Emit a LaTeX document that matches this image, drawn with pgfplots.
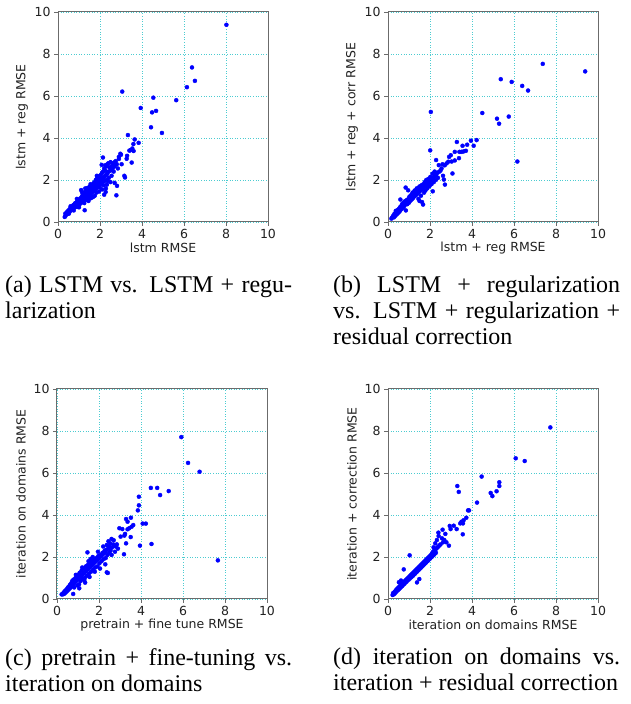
\documentclass[border=0pt]{standalone}
\usepackage{pgfplots}
\pgfplotsset{compat=1.18}
\usepackage{fontspec}
\setmainfont{Liberation Serif}
\newfontfamily\dejavu{DejaVu Sans}
\definecolor{GridCyan}{rgb}{0.30,0.80,0.82}
\definecolor{Frame}{gray}{0.42}
\definecolor{Ink}{gray}{0.13}

\pgfplotsset{
  rmse/.style={
    width=210pt,height=210pt,scale only axis,
    xmin=0,xmax=10,ymin=0,ymax=10,
    xtick={0,2,4,6,8,10},ytick={0,2,4,6,8,10},
    xtick pos=left,ytick pos=left,
    grid=major,
    major grid style={draw=GridCyan,line width=0.6pt,dotted},
    axis line style={draw=Frame,line width=1pt},
    tick align=outside,major tick length=4pt,
    tick style={draw=Frame,line width=0.8pt},
    /pgf/number format/assume math mode=true,
    tick label style={font=\dejavu\fontsize{12.5}{14}\selectfont,text=Ink},
    label style={font=\dejavu\fontsize{12.5}{14}\selectfont,text=Ink},
    xlabel style={at={(axis description cs:0.5,-0.125)},anchor=center},
    ylabel style={at={(axis description cs:-0.172,0.5)},anchor=center},
  },
  dots/.style={only marks,mark=*,mark size=2pt,color=blue,mark options={draw=none,fill=blue}},
}
\tikzset{subcap/.style={anchor=north west,inner sep=0pt,text width=287pt,align=justify,
    font=\fontsize{24}{26}\selectfont,text=black}}

\begin{document}
\begin{tikzpicture}
\path (0pt,0pt) rectangle (631pt,704pt);

% (a)
\begin{axis}[rmse,at={(58pt,482pt)},anchor=south west,
  xlabel={lstm RMSE},ylabel={lstm + reg RMSE}]
\addplot[dots] coordinates {
(0.32,0.24)(0.35,0.40)(0.36,0.30)(0.40,0.36)(0.41,0.45)(0.45,0.50)(0.45,0.38)(0.47,0.42)
(0.50,0.48)(0.50,0.55)(0.52,0.40)(0.55,0.60)(0.56,0.50)(0.60,0.55)(0.60,0.68)(0.62,0.62)
(0.65,0.60)(0.66,0.72)(0.70,0.65)(0.70,0.78)(0.72,0.72)(0.75,0.68)(0.76,0.82)(0.80,0.75)
(0.80,0.88)(0.82,0.70)(0.85,0.80)(0.86,0.92)(0.90,0.85)(0.90,0.95)(0.92,0.72)(0.95,0.88)
(0.96,1.00)(1.00,0.95)(1.00,1.05)(1.02,0.82)(1.05,1.00)(1.06,1.12)(1.08,0.90)(1.10,1.02)
(1.10,1.52)(1.12,1.18)(1.15,1.08)(1.16,1.25)(1.18,0.95)(1.20,1.15)(1.20,1.32)(1.22,1.00)
(1.25,1.20)(1.25,1.42)(1.27,0.56)(1.28,1.05)(1.30,1.22)(1.30,1.60)(1.32,1.10)(1.32,1.38)
(1.35,1.30)(1.35,1.50)(1.37,1.15)(1.40,1.35)(1.40,1.62)(1.42,1.20)(1.45,1.40)(1.45,1.55)
(1.47,1.25)(1.50,1.45)(1.50,1.68)(1.52,1.30)(1.53,1.12)(1.55,1.50)(1.55,1.60)(1.57,1.35)
(1.60,1.55)(1.60,1.75)(1.62,1.40)(1.65,1.58)(1.65,1.70)(1.67,1.45)(1.68,1.20)(1.70,1.65)
(1.70,1.85)(1.72,1.50)(1.75,1.70)(1.75,1.90)(1.77,1.55)(1.80,1.75)(1.80,2.00)(1.82,1.60)
(1.83,1.40)(1.85,1.80)(1.85,2.05)(1.87,1.65)(1.90,1.85)(1.90,2.10)(1.92,1.70)(1.95,1.90)
(1.95,2.15)(1.97,1.65)(2.00,1.95)(2.00,2.20)(2.02,1.80)(1.98,1.67)(2.05,2.00)(2.05,2.25)
(2.07,1.85)(2.10,2.05)(2.10,2.35)(2.12,1.90)(2.15,2.10)(2.15,2.40)(2.17,1.75)(2.20,2.15)
(2.20,2.55)(2.22,1.95)(2.25,2.20)(2.25,2.45)(2.27,1.43)(2.28,1.60)(2.30,2.25)(2.30,2.65)
(2.32,2.00)(2.33,1.78)(2.35,2.30)(2.35,2.75)(2.37,1.95)(2.40,2.40)(2.40,2.80)(2.42,2.10)
(2.50,2.45)(2.50,2.85)(2.50,1.90)(2.55,2.65)(2.60,2.55)(2.60,2.80)(2.65,2.70)(2.70,2.65)
(2.70,2.85)(2.70,1.86)(2.75,2.90)(2.78,1.27)(2.80,2.75)(2.81,1.72)(2.08,2.72)(2.14,3.07)
(0.60,0.75)(0.75,0.55)(0.90,1.10)(1.00,0.70)(1.15,1.40)(1.25,0.90)(1.40,1.05)(1.55,1.80)
(1.60,1.15)(1.75,1.25)(1.85,2.20)(1.95,1.45)(2.10,1.55)(2.25,2.70)(2.45,2.60)(2.55,2.20)
(2.65,2.40)(2.85,2.55)(2.20,1.30)(1.45,1.00)
(2.90,3.10)(2.90,3.00)(2.97,3.25)(3.00,3.20)(3.03,2.75)(3.16,2.20)(3.19,2.12)(3.27,3.01)
(3.29,3.15)(3.33,4.14)(3.40,3.40)(3.45,3.42)(3.51,2.83)(3.54,3.50)(3.59,3.71)(3.60,3.38)
(3.65,3.93)(3.84,3.77)(3.06,6.21)(3.94,5.43)(4.43,4.51)(4.48,5.22)(4.54,5.92)(4.67,5.29)
(4.95,4.24)(5.63,5.80)(6.14,6.42)(6.38,7.36)(6.52,6.72)(8.02,9.39)
};
\end{axis}

% (b)
\begin{axis}[rmse,at={(388pt,482pt)},anchor=south west,
  xlabel={lstm + reg RMSE},ylabel={lstm + reg + corr RMSE}]
\addplot[dots] coordinates {
(0.16,0.16)(0.20,0.22)(0.25,0.30)(0.28,0.22)(0.30,0.38)(0.33,0.28)(0.35,0.42)(0.37,0.53)
(0.40,0.35)(0.42,0.48)(0.45,0.40)(0.47,0.58)(0.50,0.45)(0.52,0.62)(0.55,0.50)(0.57,0.70)
(0.59,1.07)(0.60,0.58)(0.62,0.75)(0.65,0.62)(0.67,0.85)(0.70,0.68)(0.72,0.90)(0.75,0.72)
(0.77,0.95)(0.80,0.80)(0.82,1.00)(0.84,1.64)(0.85,0.55)(0.86,0.88)(0.90,1.05)(0.92,0.85)
(0.95,0.95)(0.96,1.51)(0.98,1.10)(1.00,0.92)(1.02,1.20)(1.05,1.00)(1.07,1.25)(1.10,1.05)
(1.12,1.30)(1.15,1.10)(1.17,1.40)(1.20,1.15)(1.22,1.35)(1.25,1.22)(1.27,1.50)(1.30,1.25)
(1.32,1.45)(1.35,1.30)(1.37,1.60)(1.40,1.35)(1.42,1.55)(1.45,1.40)(1.45,1.10)(1.47,1.65)
(1.50,1.45)(1.50,1.00)(1.52,1.70)(1.55,1.50)(1.57,1.25)(1.60,1.55)(1.60,1.75)(1.62,0.95)
(1.65,1.60)(1.67,0.83)(1.68,1.80)(1.70,1.65)(1.72,1.40)(1.75,1.70)(1.75,1.90)(1.78,1.50)
(1.80,1.75)(1.82,2.00)(1.85,1.80)(1.87,1.60)(1.90,1.85)(1.92,2.05)(1.95,1.90)(1.97,1.70)
(2.00,1.95)(2.01,3.41)(2.02,2.15)(2.04,5.24)(2.05,2.00)(2.07,1.80)(2.10,2.05)(2.12,2.30)
(2.13,1.46)(2.15,2.10)(2.18,1.90)(2.20,2.15)(2.22,2.40)(2.25,2.20)(2.28,2.00)(2.29,2.95)
(2.30,2.25)(2.35,2.35)(2.38,2.10)(2.42,2.71)(2.45,2.40)(2.50,2.45)(2.55,2.55)(2.60,2.75)
(2.62,2.20)(2.66,2.02)(2.71,1.78)(2.70,2.70)(2.79,2.79)(2.87,2.87)(2.91,3.10)(2.99,3.18)
(3.03,2.88)(3.07,2.31)(3.18,3.34)(3.18,2.93)(3.28,3.81)(3.38,3.04)(3.40,3.34)(3.50,3.34)
(3.55,3.63)(3.60,3.36)(3.71,3.39)(3.77,3.68)(3.95,3.87)(4.08,3.63)(4.22,3.90)(4.49,5.19)
(5.19,4.92)(5.29,4.68)(5.37,6.80)(5.75,5.02)(5.89,6.67)(6.16,2.88)(6.39,6.48)(6.67,6.26)
(7.37,7.53)(9.39,7.17)
};
\end{axis}

% (c)
\begin{axis}[rmse,at={(57pt,105pt)},anchor=south west,
  xlabel={pretrain + fine tune RMSE},ylabel={iteration on domains RMSE}]
\addplot[dots] coordinates {
(0.22,0.22)(0.28,0.22)(0.30,0.28)(0.33,0.32)(0.35,0.25)(0.38,0.38)(0.40,0.30)(0.42,0.42)
(0.45,0.35)(0.48,0.48)(0.50,0.40)(0.52,0.55)(0.55,0.45)(0.58,0.60)(0.60,0.50)(0.62,0.68)
(0.65,0.55)(0.68,0.75)(0.70,0.62)(0.72,0.85)(0.75,0.68)(0.77,0.24)(0.78,0.92)(0.80,0.72)
(0.82,0.55)(0.85,0.80)(0.87,0.98)(0.90,0.85)(0.92,1.05)(0.95,0.90)(0.97,0.65)(1.00,0.95)
(1.02,1.15)(1.05,1.00)(1.06,0.51)(1.08,1.25)(1.10,1.05)(1.12,0.85)(1.15,1.10)(1.17,1.35)
(1.20,1.15)(1.22,0.95)(1.25,1.20)(1.27,1.45)(1.30,1.25)(1.32,1.00)(1.34,0.78)(1.35,1.30)
(1.37,1.55)(1.40,1.35)(1.42,1.10)(1.45,1.40)(1.45,2.22)(1.47,1.62)(1.50,1.45)(1.52,1.20)
(1.55,1.50)(1.57,1.70)(1.60,1.55)(1.62,1.30)(1.65,1.60)(1.67,1.80)(1.70,1.65)(1.72,1.40)
(1.75,1.70)(1.77,1.88)(1.80,1.75)(1.82,1.50)(1.85,1.80)(1.87,1.95)(1.90,1.85)(1.92,1.55)
(1.95,1.90)(1.97,2.05)(2.00,1.95)(2.02,1.70)(2.05,2.00)(2.07,2.10)(2.10,2.05)(2.12,1.80)
(2.15,2.10)(2.17,2.20)(2.20,2.15)(2.22,1.90)(2.25,2.20)(2.27,2.30)(2.30,2.25)(2.32,1.95)
(2.35,2.35)(2.37,2.57)(2.37,1.27)(2.40,2.10)(2.42,1.24)(2.45,2.40)(2.50,2.50)(2.53,2.65)
(2.55,2.30)(2.60,2.86)(2.62,2.45)(2.68,2.60)(2.72,2.54)(2.76,2.25)(2.80,2.50)(2.85,2.60)
(0.90,1.15)(1.05,0.70)(1.20,1.50)(1.30,0.90)(1.50,1.80)(1.55,1.05)(1.70,2.00)(1.80,1.30)
(1.95,2.25)(2.05,1.45)(2.20,2.50)(2.30,1.65)(2.45,2.75)(2.60,2.10)(2.70,2.80)(2.90,2.40)
(2.48,2.20)(1.60,1.90)
(2.97,3.37)(3.03,2.97)(3.11,3.33)(3.19,2.13)(3.21,3.02)(3.24,3.10)(3.29,3.81)(3.29,2.65)
(3.36,3.68)(3.36,3.32)(3.44,3.37)(3.51,2.95)(3.52,3.87)(3.55,3.44)(3.63,3.52)(3.85,4.22)
(3.90,4.46)(3.90,4.87)(3.95,2.54)(4.08,3.59)(4.23,3.59)(4.47,5.29)(4.50,2.62)(4.77,5.29)
(4.91,4.95)(5.32,5.14)(5.92,7.71)(6.24,6.48)(6.79,6.06)(7.66,1.84)
};
\end{axis}

% (d)
\begin{axis}[rmse,at={(388pt,105pt)},anchor=south west,
  xlabel={iteration on domains RMSE},ylabel={iteration + correction RMSE}]
\addplot[dots] coordinates {
(0.22,0.19)(0.24,0.28)(0.27,0.22)(0.30,0.32)(0.32,0.26)(0.35,0.38)(0.38,0.33)(0.40,0.45)
(0.42,0.38)(0.45,0.50)(0.47,0.42)(0.50,0.55)(0.52,0.80)(0.53,0.48)(0.55,0.60)(0.57,0.52)
(0.60,0.65)(0.62,0.88)(0.63,0.58)(0.65,0.70)(0.68,0.62)(0.70,0.75)(0.72,0.68)(0.75,1.41)
(0.75,0.80)(0.78,0.72)(0.80,0.85)(0.82,0.78)(0.85,0.90)(0.88,0.82)(0.90,0.95)(0.92,0.88)
(0.95,1.00)(0.98,0.92)(1.00,1.05)(1.03,2.08)(1.03,0.97)(1.05,1.10)(1.08,1.02)(1.10,1.15)
(1.12,1.05)(1.15,1.20)(1.18,1.10)(1.20,1.25)(1.22,1.15)(1.25,1.30)(1.28,1.20)(1.30,1.35)
(1.32,1.25)(1.35,1.40)(1.38,0.79)(1.38,1.30)(1.40,1.45)(1.42,1.35)(1.45,1.50)(1.48,1.40)
(1.49,0.95)(1.50,1.55)(1.52,1.45)(1.55,1.60)(1.58,1.50)(1.60,1.65)(1.62,1.55)(1.65,1.70)
(1.68,1.60)(1.70,1.75)(1.72,1.65)(1.75,1.80)(1.78,1.70)(1.80,1.85)(1.82,1.75)(1.85,1.90)
(1.88,1.80)(1.90,1.95)(1.92,1.85)(1.95,2.00)(1.98,1.90)(2.00,2.05)(2.02,1.95)(2.05,2.10)
(2.08,2.00)(2.10,2.18)(2.12,2.05)(2.15,2.25)(2.17,2.46)(2.18,2.10)(2.20,2.30)(2.22,2.15)
(2.25,2.65)(2.25,2.35)(2.28,2.20)(2.30,2.40)(2.33,2.81)(2.35,2.45)(2.40,3.16)(2.40,2.50)
(2.41,3.00)(2.45,2.55)(2.50,2.60)(2.57,2.89)(2.60,3.30)(2.62,2.70)(2.68,2.81)(2.73,3.10)
(2.78,2.70)(2.90,2.54)(2.94,3.48)(2.98,3.33)(3.13,3.49)(3.27,3.33)(3.30,5.38)(3.37,5.10)
(3.44,3.60)(3.50,3.68)(3.56,3.08)(3.57,3.60)(3.60,3.75)(3.73,3.87)(3.81,4.22)(3.86,4.22)
(4.24,4.59)(4.46,5.83)(4.89,5.05)(4.97,4.90)(5.17,5.13)(5.30,5.56)(5.30,5.38)(6.08,6.70)
(6.51,6.57)(7.73,8.17)
};
\end{axis}

% captions
\node[subcap] at (5pt,428pt) {(a) LSTM vs. LSTM + regu-\linebreak larization};
\node[subcap] at (333pt,428pt) {(b) LSTM + regularization\linebreak vs. LSTM + regularization +\linebreak residual correction};
\node[subcap] at (5pt,56pt) {(c) pretrain + fine-tuning vs.\linebreak iteration on domains};
\node[subcap] at (333pt,56pt) {(d) iteration on domains vs.\linebreak iteration + residual correction};
\end{tikzpicture}
\end{document}
